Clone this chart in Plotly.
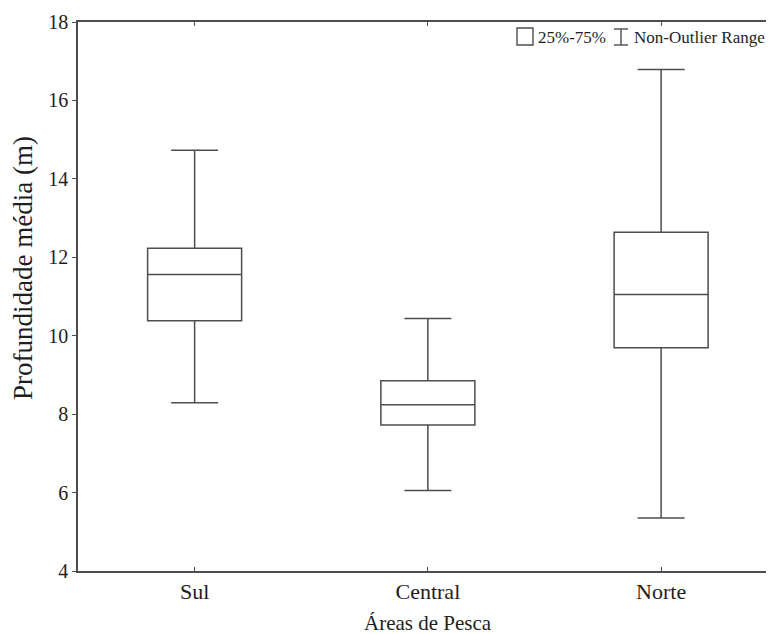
import plotly.graph_objects as go

categories = ["Sul", "Central", "Norte"]
q1_vals = [10.38, 7.72, 9.69]
median_vals = [11.56, 8.24, 11.05]
q3_vals = [12.23, 8.85, 12.64]
lower_vals = [8.29, 6.05, 5.35]
upper_vals = [14.73, 10.44, 16.79]
y_ticks = [4, 6, 8, 10, 12, 14, 16, 18]

FONT = "Liberation Serif"
LINE = "#4d4d4d"
TXT = "#1e1e1e"

# page body adds an 8px offset; figure is sized to fit the 774x634 window
OFF = 8
W, H = 774 - OFF, 634 - OFF
PL, PT, PR, PB = 78, 22, 774, 571  # plot area in window pixels


def px(xw):
    return (xw - PL) / (PR - PL)


def py(yw):
    return (PB - yw) / (PB - PT)


fig = go.Figure()
fig.add_trace(go.Box(
    x=categories,
    q1=q1_vals, median=median_vals, q3=q3_vals,
    lowerfence=lower_vals, upperfence=upper_vals,
    fillcolor="white",
    line=dict(color=LINE, width=1.5),
    whiskerwidth=0.5,
    width=0.403,
    boxpoints=False,
    showlegend=False,
    hoverinfo="skip",
))
# invisible trace so the right-side inner ticks are drawn
fig.add_trace(go.Scatter(x=categories, y=median_vals, yaxis="y2", mode="none",
                         showlegend=False, hoverinfo="skip"))

fig.update_layout(
    width=W, height=H,
    margin=dict(l=PL - OFF, r=0, t=PT - OFF, b=H - (PB - OFF)),
    paper_bgcolor="white", plot_bgcolor="white",
    font=dict(family=FONT, color=TXT),
    xaxis=dict(
        type="category",
        range=[-0.5, 2.484],
        showline=True, linecolor=LINE, linewidth=1.5,
        mirror="ticks", ticks="inside", ticklen=4, tickcolor=LINE,
        showgrid=False, zeroline=False,
        tickfont=dict(size=22, family=FONT, color=TXT),
    ),
    yaxis=dict(
        range=[4, 18], tickvals=y_ticks,
        showline=True, linecolor=LINE, linewidth=1.5,
        ticks="outside", ticklen=4, tickcolor=LINE,
        showgrid=False, zeroline=False,
        tickfont=dict(size=20, family=FONT, color=TXT),
    ),
    yaxis2=dict(
        overlaying="y", side="right", range=[4, 18], tickvals=y_ticks,
        showline=False, ticks="inside", ticklen=3, tickcolor=LINE,
        showticklabels=False, showgrid=False, zeroline=False,
    ),
)

# axis titles
fig.add_annotation(xref="paper", yref="paper", x=px(428), y=py(623),
                   xanchor="center", yanchor="middle", showarrow=False,
                   text="Áreas de Pesca", font=dict(size=21, family=FONT, color=TXT))
fig.add_annotation(xref="paper", yref="paper", x=px(23), y=py(268),
                   xanchor="center", yanchor="middle", showarrow=False, textangle=-90,
                   text="Profundidade média (m)", font=dict(size=27, family=FONT, color=TXT))

# legend-like key (top right)
fig.add_shape(type="rect", xref="paper", yref="paper",
              x0=px(517), x1=px(533), y0=py(45), y1=py(28),
              line=dict(color=LINE, width=1.4), fillcolor="white")
fig.add_shape(type="line", xref="paper", yref="paper", x0=px(621), x1=px(621),
              y0=py(45), y1=py(29), line=dict(color=LINE, width=1.4))
for yy in (29, 45):
    fig.add_shape(type="line", xref="paper", yref="paper",
                  x0=px(614), x1=px(628), y0=py(yy), y1=py(yy),
                  line=dict(color=LINE, width=1.4))
fig.add_annotation(xref="paper", yref="paper", x=px(536), y=py(37),
                   xanchor="left", yanchor="middle", showarrow=False,
                   text="25%-75%", font=dict(size=17, family=FONT, color=TXT))
fig.add_annotation(xref="paper", yref="paper", x=px(632), y=py(37),
                   xanchor="left", yanchor="middle", showarrow=False,
                   text="Non-Outlier Range", font=dict(size=17, family=FONT, color=TXT))

fig.write_html("out.html")
